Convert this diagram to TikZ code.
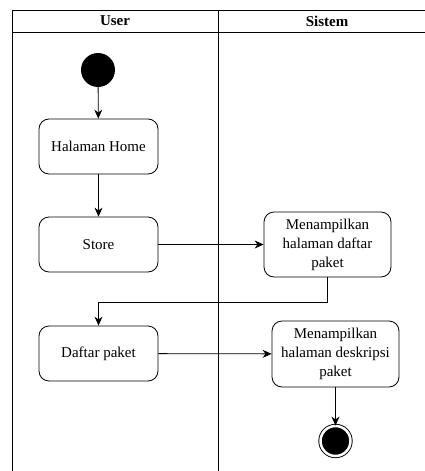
\documentclass[tikz,border=0pt]{standalone}
\usepackage{fontspec}
\setmainfont{Liberation Serif}
\usepackage{tikz}
\usetikzlibrary{shapes.geometric, arrows.meta, positioning, calc}

\begin{document}
\begin{tikzpicture}[x=1pt, y=-1pt, font=\fontsize{15}{19}\selectfont,
    activity/.style={rectangle, draw, line width=0.8pt, rounded corners=10pt, align=center, minimum width=119pt, minimum height=55pt, inner sep=2pt},
    flow/.style={-{Stealth[length=9pt,width=8pt]}, line width=0.8pt}]
    \useasboundingbox (0,0) rectangle (425,471);

    % Swimlanes
    \draw[line width=1pt] (12,10) -- (425,10);
    \draw[line width=1pt] (12,32) -- (425,32);
    \draw[line width=1pt] (12,10) -- (12,471);
    \draw[line width=1pt] (218,10) -- (218,471);
    \node (laneuser) at (115,21) {\textbf{User}};
    \node (lanesistem) at (327,21) {\textbf{Sistem}};

    % Nodes
    \node (start) [circle, fill=black, minimum size=34pt, inner sep=0pt] at (98,70) {};
    \node (home) [activity] at (98.5,146.5) {Halaman Home};
    \node (store) [activity] at (98.5,244.5) {Store};
    \node (daftarhal) [activity, minimum width=127pt, minimum height=65pt] at (327.5,244.5) {Menampilkan\\halaman daftar\\paket};
    \node (daftar) [activity] at (98.5,353.5) {Daftar paket};
    \node (deskripsi) [activity, minimum width=127pt, minimum height=66pt] at (335.5,354) {Menampilkan\\halaman deskripsi\\paket};
    \node (end) [circle, draw, fill=black, double=white, double distance=2.5pt, line width=0.9pt, minimum size=30pt, inner sep=0pt] at (335.5,441) {};

    % Flows
    \draw[flow] (start) -- (home);
    \draw[flow] (home) -- (store);
    \draw[flow] (store) -- (daftarhal);
    \draw[flow] (daftarhal.south) -- ++(0,25) -| (daftar.north);
    \draw[flow] (daftar) -- (deskripsi);
    \draw[flow] (deskripsi) -- (end);

\end{tikzpicture}
\end{document}
